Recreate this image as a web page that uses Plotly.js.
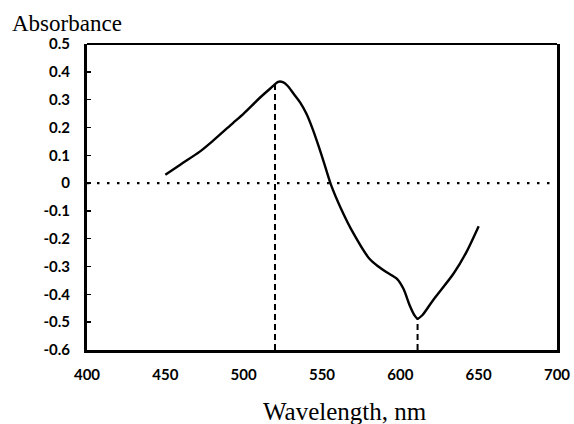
<!DOCTYPE html>
<html>
<head>
<meta charset="utf-8">
<script src="https://cdn.plot.ly/plotly-3.0.1.min.js"></script>
<style>html,body{margin:0;padding:0;background:#fff;}#chart{width:574px;height:424px;}</style>
</head>
<body>
<div id="chart"></div>
<script>
// Spectrum (wavelength nm, absorbance)
const wavelength = [450, 460, 472, 480, 493, 500, 510, 517, 522, 525, 528, 532, 536, 540, 544, 548, 552, 556, 562, 570, 580, 586, 591, 598, 602, 606, 609, 611, 614, 621, 634, 642, 650];
const absorbance = [0.03, 0.068, 0.113, 0.15, 0.215, 0.25, 0.305, 0.34, 0.364, 0.363, 0.35, 0.32, 0.29, 0.25, 0.195, 0.13, 0.06, -0.01, -0.09, -0.18, -0.27, -0.30, -0.32, -0.345, -0.38, -0.44, -0.475, -0.487, -0.475, -0.42, -0.325, -0.25, -0.155];

// Vertical marker lines (peak and trough)
const peakX = [520, 520];
const peakY = [-0.6, 0.362];
const troughX = [611, 611];
const troughY = [-0.6, -0.487];

// Zero reference line
const zeroX = [400, 700];
const zeroY = [0, 0];

// Tick labels
const xTickVals = [400, 450, 500, 550, 600, 650, 700];
const xTickText = ["400", "450", "500", "550", "600", "650", "700"];
const yTickVals = [0.5, 0.4, 0.3, 0.2, 0.1, 0, -0.1, -0.2, -0.3, -0.4, -0.5, -0.6];
const yTickText = ["0.5", "0.4", "0.3", "0.2", "0.1", "0", "-0.1", "-0.2", "-0.3", "-0.4", "-0.5", "-0.6"];

const traces = [
  {x: zeroX, y: zeroY, mode: 'lines', line: {color: '#000', width: 2.4, dash: '2.5px,7.5px'}, hoverinfo: 'skip'},
  {x: peakX, y: peakY, mode: 'lines', line: {color: '#000', width: 2, dash: '6px,4px'}, hoverinfo: 'skip'},
  {x: troughX, y: troughY, mode: 'lines', line: {color: '#000', width: 2, dash: '6px,4px'}, hoverinfo: 'skip'},
  {x: wavelength, y: absorbance, mode: 'lines', line: {color: '#000', width: 2.4, shape: 'spline', smoothing: 0.8}}
];

const tickFont = {family: 'Lato, "Liberation Sans", sans-serif', size: 15, color: '#000', weight: 'bold'};

const layout = {
  width: 574, height: 424,
  margin: {l: 87, r: 17, t: 44, b: 74},
  paper_bgcolor: '#fff', plot_bgcolor: '#fff',
  showlegend: false,
  title: {
    text: 'Absorbance',
    font: {family: '"Liberation Serif", "Times New Roman", serif', size: 23, color: '#000'},
    xref: 'container', x: 12/574, xanchor: 'left',
    yref: 'container', y: 1 - 23/424, yanchor: 'middle'
  },
  xaxis: {
    range: [400, 700], tickvals: xTickVals, ticktext: xTickText,
    showgrid: false, zeroline: false,
    showline: true, linecolor: '#000', linewidth: 3, mirror: false,
    ticks: '', tickfont: tickFont, ticklabelstandoff: 9
  },
  yaxis: {
    range: [-0.6, 0.5], tickvals: yTickVals, ticktext: yTickText,
    showgrid: false, zeroline: false,
    showline: true, linecolor: '#000', linewidth: 3, mirror: true,
    ticks: 'inside', ticklen: 4, tickwidth: 1.5, tickcolor: '#000',
    tickfont: tickFont, ticklabelstandoff: 11
  },
  shapes: [
    {type: 'line', xref: 'paper', yref: 'paper', x0: 0, x1: 1, y0: 1, y1: 1, line: {color: '#000', width: 2}}
  ],
  annotations: [
    {text: 'Wavelength, nm', xref: 'paper', yref: 'paper', x: (345-87)/470, y: -(411-350)/306,
     xanchor: 'center', yanchor: 'middle', showarrow: false,
     font: {family: '"Liberation Serif", "Times New Roman", serif', size: 25, color: '#000'}}
  ]
};

Plotly.newPlot('chart', traces, layout, {staticPlot: true, displayModeBar: false});
</script>
</body>
</html>
